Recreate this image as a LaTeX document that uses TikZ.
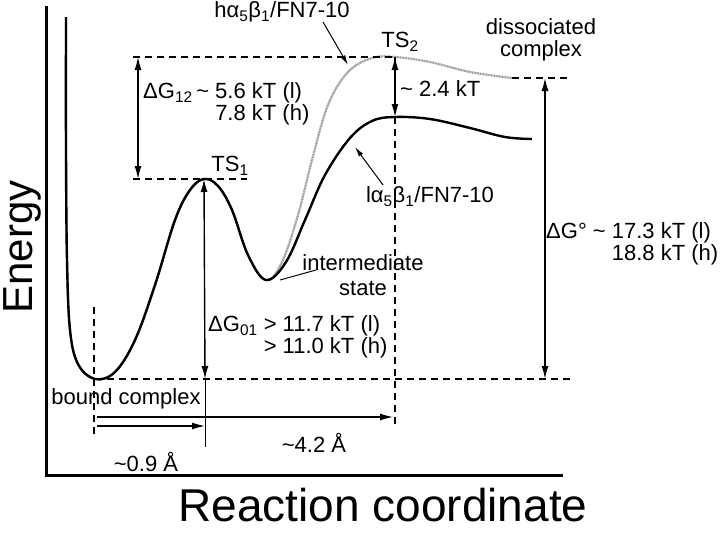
\documentclass[tikz,border=0pt]{standalone}
\usepackage{fontspec}
\setmainfont{Liberation Sans}
\usetikzlibrary{positioning,arrows.meta}
\definecolor{hgray}{RGB}{150,150,150}

\begin{document}
\begin{tikzpicture}[
  x=1pt, y=-1pt,
  every node/.style={font=\fontsize{22}{19}\selectfont, inner sep=0pt},
  twoline/.style={font=\fontsize{22}{22}\selectfont},
  axislabel/.style={font=\fontsize{42}{42}\selectfont},
  axis/.style={line width=3pt},
  guide/.style={line width=1.1pt, dash pattern=on 7pt off 5pt},
  dim/.style={{Latex[length=13pt,width=7pt]}-{Latex[length=13pt,width=7pt]}, line width=1.4pt},
  arr/.style={-{Latex[length=13pt,width=7pt]}, line width=1.3pt},
  pointer/.style={-{Latex[length=10pt,width=5pt]}, line width=1pt},
  leader/.style={line width=1pt},
  lcurve/.style={line width=2.4pt, line join=round},
  hcurve/.style={draw=hgray, line width=2.2pt, dash pattern=on 1pt off 0.6pt},
]
\useasboundingbox (0,0) rectangle (720,533);

% axes
\coordinate (ytop)   at (46,6);
\coordinate (origin) at (46,475);
\coordinate (xend)   at (563,475);
\draw[axis] (ytop) -- (origin) -- (xend);

\node[axislabel, rotate=90] at (22,247) (energy) {Energy};
\node[axislabel, font=\fontsize{46}{46}\selectfont] at (383,505) (rxn) {Reaction coordinate};

% key points of the profile
\coordinate (bound) at (95,379);
\coordinate (ts1)   at (204,179);
\coordinate (inter) at (266,280);
\coordinate (ts2h)  at (395,57);
\coordinate (ts2l)  at (395,117);
\coordinate (dissh) at (512,78);

% energy profiles: h (grey) under l (black)
\draw[hcurve] plot[smooth, tension=0.6] coordinates {
  (66,17) (66,150) (67,260) (70,330) (78,364) (95,379) (115,372) (135,340)
  (155,285) (175,220) (190,190) (204,179) (218,186) (232,210) (248,255) (266,280)
  (282,262) (298,215) (312,160) (328,105) (348,72) (372,58) (395,57)
  (430,62) (470,72) (512,78)};
\draw[lcurve] plot[smooth, tension=0.6] coordinates {
  (66,17) (66,150) (67,260) (70,330) (78,364) (95,379) (115,372) (135,340)
  (155,285) (175,220) (190,190) (204,179) (218,186) (232,210) (248,255) (266,280)
  (286,262) (305,220) (325,175) (350,138) (372,121) (395,117)
  (430,119) (470,128) (505,137) (532,139)};

% ── dashed guides ──
\coordinate (g12top) at (133,57);
\coordinate (g12bot) at (133,179);
\coordinate (ts1r)   at (247,179);
\coordinate (ts2low) at (395,424);
\coordinate (baser)  at (573,379);
\coordinate (dissr)  at (567,78);
\coordinate (boundtop) at (94,307);
\coordinate (boundbot) at (94,438);
\draw[guide] (g12top) -- (ts2h);
\draw[guide] (g12bot) -- (ts1r);
\draw[guide] (ts2h) -- (ts2low);
\draw[guide] (bound) -- (baser);
\draw[guide] (dissh) -- (dissr);
\draw[guide] (boundtop) -- (boundbot);

% ── energy differences ──
\coordinate (a12top) at (138,57);
\coordinate (a12bot) at (138,179);
\coordinate (a01bot) at (205,379);
\coordinate (a01end) at (205,447);
\coordinate (agtop)  at (545,78);
\coordinate (agbot)  at (545,379);
\draw[dim] (a12top) -- (a12bot);
\draw[dim] (ts2h) -- (ts2l);
\draw[dim] (ts1) -- (a01bot);
\draw[leader] (a01bot) -- (a01end);
\draw[dim] (agtop) -- (agbot);

% ── distances ──
\coordinate (d42s) at (97,417);
\coordinate (d42e) at (393,417);
\coordinate (d09s) at (97,426);
\coordinate (d09e) at (205,426);
\draw[arr] (d42s) -- (d42e);
\draw[arr] (d09s) -- (d09e);

% ── labels ──
\node at (282,12)  (hlab)  {hα\textsubscript{5}β\textsubscript{1}/FN7-10};
\node at (430,197) (llab)  {lα\textsubscript{5}β\textsubscript{1}/FN7-10};
\node at (230,166) (ts1lab) {TS\textsubscript{1}};
\node at (400,42)  (ts2lab) {TS\textsubscript{2}};
\node[twoline, align=center] at (541,40) (disslab) {dissociated\\complex};
\node[align=center, font=\fontsize{22}{25}\selectfont] at (363,275) (interlab) {intermediate\\state};
\node at (126,399) (boundlab) {bound complex};
\node[anchor=west] at (400,89) (dg2) {\textasciitilde\ 2.4 kT};
\node[anchor=west, align=left] at (143,104) (dg12)
  {ΔG\textsubscript{12}\,\textasciitilde\ 5.6 kT (l)\\
   \hphantom{ΔG\textsubscript{12}\,\textasciitilde\ }7.8 kT (h)};
\node[anchor=west, align=left] at (208,337) (dg01)
  {ΔG\textsubscript{01} > 11.7 kT (l)\\
   \hphantom{ΔG\textsubscript{01} }> 11.0 kT (h)};
\node[twoline, anchor=west, align=left] at (546,244) (dgo)
  {ΔG° \textasciitilde\ 17.3 kT (l)\\
   \hphantom{ΔG° \textasciitilde\ }18.8 kT (h)};
\node at (146,462) (d09lab) {\textasciitilde0.9 Å};
\node at (314,443) (d42lab) {\textasciitilde4.2 Å};

% pointers to the curves
\coordinate (htail) at (323,22);
\coordinate (htip)  at (348,65);
\coordinate (ltail) at (383,185);
\coordinate (ltip)  at (355,147);
\coordinate (itail) at (316,270);
\coordinate (itip)  at (280,280);
\draw[pointer] (htail) -- (htip);
\draw[pointer] (ltail) -- (ltip);
\draw[leader] (itail) -- (itip);

\end{tikzpicture}
\end{document}
